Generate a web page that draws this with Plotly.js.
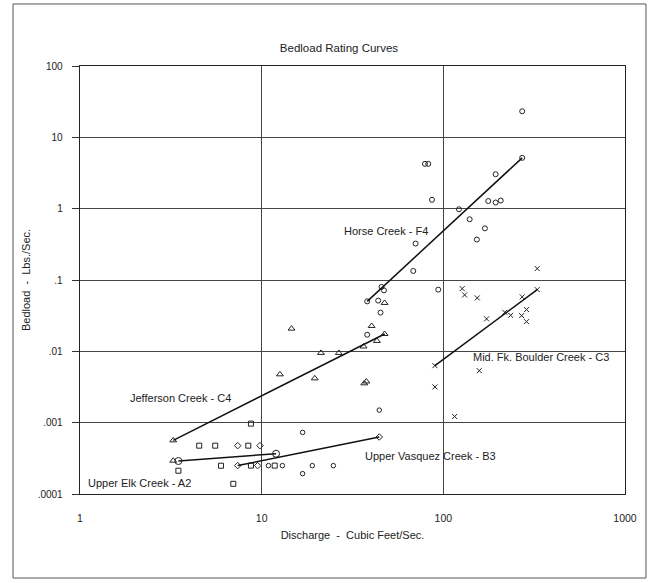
<!DOCTYPE html>
<html>
<head>
<meta charset="utf-8">
<script src="https://cdn.plot.ly/plotly-3.0.1.min.js"></script>
<style>html,body{margin:0;padding:0;background:#fff;}#chart{width:650px;height:583px;}</style>
</head>
<body>
<div id="chart"></div>
<script>
// ---- Data ----
const horseX = [68.3, 93.8, 38.1, 45.7, 47.1, 43.8, 45.1, 38.1, 271.7, 271.7, 79.2, 82.6, 194, 86.6, 176.7, 194, 207, 121.9, 139.6, 169.4, 153, 70.4];
const horseY = [0.134, 0.0733, 0.0502, 0.080, 0.0716, 0.0514, 0.0349, 0.0171, 5.16, 23.2, 4.25, 4.25, 3.04, 1.33, 1.28, 1.22, 1.30, 0.98, 0.71, 0.53, 0.369, 0.324];

const jeffersonX = [3.26, 3.26, 14.6, 40.3, 47.5, 47.5, 43.1, 36.4, 21.2, 26.6, 12.6, 19.6, 36.7, 37.7];
const jeffersonY = [0.000565, 0.000293, 0.0208, 0.0227, 0.0477, 0.0175, 0.014, 0.0117, 0.0095, 0.0095, 0.00476, 0.00418, 0.00356, 0.00378];

const upperElkX = [8.73, 4.53, 5.55, 8.44, 3.48, 5.97, 8.73, 11.8, 6.98];
const upperElkY = [0.00097, 0.000476, 0.000476, 0.000476, 0.000212, 0.000249, 0.00025, 0.00025, 0.000139];

const vasquezDiamondX = [7.38, 9.79, 7.38, 9.5, 44.4];
const vasquezDiamondY = [0.000476, 0.000476, 0.00025, 0.00025, 0.00063];
const vasquezCircleX = [16.8, 10.9, 13.0, 16.8, 19.0, 24.8, 44.4];
const vasquezCircleY = [0.00073, 0.00025, 0.00025, 0.000193, 0.00025, 0.00025, 0.0015];

const midFkX = [328.6, 127, 131, 153.7, 328.6, 271.7, 287, 269.7, 287, 218, 234.6, 173, 89.9, 157.7, 89.9, 115.4];
const midFkY = [0.1445, 0.0757, 0.0618, 0.0561, 0.0733, 0.058, 0.0385, 0.0317, 0.0261, 0.0352, 0.032, 0.0285, 0.0063, 0.00536, 0.00317, 0.00122];

// Rating-curve end points
const horseLineX = [38.1, 271.7];
const horseLineY = [0.0502, 5.16];
const jeffersonLineX = [3.26, 47.5];
const jeffersonLineY = [0.000565, 0.0175];
const upperElkLineX = [3.48, 12.0];
const upperElkLineY = [0.00029, 0.000367];
const vasquezLineX = [7.38, 44.4];
const vasquezLineY = [0.00025, 0.00063];
const midFkLineX = [89.9, 328.6];
const midFkLineY = [0.0063, 0.0733];

const xTickVals = [1, 10, 100, 1000];
const xTickText = ["1", "10", "100", "1000"];
const yTickVals = [0.0001, 0.001, 0.01, 0.1, 1, 10, 100];
const yTickText = [".0001", ".001", ".01", ".1", "1", "10", "100"];

const curveLabels = ["Horse Creek - F4", "Jefferson Creek - C4", "Upper Vasquez Creek - B3", "Upper Elk Creek - A2", "Mid. Fk. Boulder Creek - C3"];

// ---- Chart ----
const ink = "#222";
const FONT = "Liberation Sans, Arial, sans-serif";

function pts(name, x, y, symbol, size) {
  return {type: "scatter", mode: "markers", name: name, x: x, y: y,
    marker: {symbol: symbol, size: size, color: ink, line: {color: ink, width: 1}}};
}
function fit(name, x, y, withMarkers) {
  return {type: "scatter", mode: withMarkers ? "lines+markers" : "lines", name: name, x: x, y: y,
    line: {color: "#111", width: 1.5},
    marker: {symbol: "circle-open", size: 7, color: ink, line: {color: ink, width: 1}}};
}

const traces = [
  pts("Horse Creek - F4", horseX, horseY, "circle-open", 5),
  pts("Jefferson Creek - C4", jeffersonX, jeffersonY, "triangle-up-open", 6),
  pts("Upper Elk Creek - A2", upperElkX, upperElkY, "square-open", 5),
  pts("Upper Vasquez Creek - B3", vasquezDiamondX, vasquezDiamondY, "diamond-open", 5),
  pts("Upper Vasquez Creek - B3 ", vasquezCircleX, vasquezCircleY, "circle-open", 4.5),
  pts("Mid. Fk. Boulder Creek - C3", midFkX, midFkY, "x-thin-open", 5),
  fit("Horse Creek fit", horseLineX, horseLineY, false),
  fit("Jefferson Creek fit", jeffersonLineX, jeffersonLineY, false),
  fit("Upper Elk Creek fit", upperElkLineX, upperElkLineY, true),
  fit("Upper Vasquez Creek fit", vasquezLineX, vasquezLineY, false),
  fit("Mid. Fk. Boulder Creek fit", midFkLineX, midFkLineY, false)
];

const labelPos = [
  [0.4802, 0.6145], [0.0881, 0.2243], [0.5187, 0.0888], [0.011, 0.0264], [0.7169, 0.3194]
];

const layout = {
  width: 650, height: 583,
  margin: {l: 80, r: 25, t: 66, b: 89},
  paper_bgcolor: "#fff", plot_bgcolor: "#fff",
  showlegend: false,
  font: {family: FONT, color: ink, size: 10},
  title: {text: "Bedload Rating Curves", xref: "container", x: 0.5215, xanchor: "center",
    yref: "container", y: 1 - 48 / 583, yanchor: "middle", font: {family: FONT, size: 11.5, color: ink}},
  xaxis: {
    type: "log", range: [0, 3], tickvals: xTickVals, ticktext: xTickText,
    ticks: "", ticklabelstandoff: 14, tickfont: {size: 10.5, color: ink},
    showgrid: true, gridcolor: "#444", gridwidth: 1,
    showline: true, linecolor: "#222", linewidth: 1.3, mirror: true, zeroline: false,
    title: {text: "Discharge  -  Cubic Feet/Sec.", font: {size: 11, color: ink}, standoff: 8}
  },
  yaxis: {
    type: "log", range: [-4, 2], tickvals: yTickVals, ticktext: yTickText,
    ticks: "outside", ticklen: 7, tickcolor: "#333", tickwidth: 1, ticklabelstandoff: 7,
    tickfont: {size: 10, color: ink},
    showgrid: true, gridcolor: "#444", gridwidth: 1,
    showline: true, linecolor: "#222", linewidth: 1.3, mirror: true, zeroline: false,
    title: {text: "Bedload  -  Lbs./Sec.", font: {size: 11, color: ink}, standoff: 4}
  },
  annotations: curveLabels.map((t, i) => ({
    text: t, xref: "paper", yref: "paper", x: labelPos[i][0], y: labelPos[i][1],
    xanchor: "left", yanchor: "middle", showarrow: false,
    font: {family: FONT, size: 11, color: ink}
  })),
  shapes: [{
    type: "rect", xref: "paper", yref: "paper",
    x0: -0.1229, x1: 1.0385, y0: -0.1963, y1: 1.1449,
    line: {color: "#555", width: 1}, fillcolor: "rgba(0,0,0,0)"
  }]
};

Plotly.newPlot("chart", traces, layout, {staticPlot: true, displayModeBar: false});
</script>
</body>
</html>
